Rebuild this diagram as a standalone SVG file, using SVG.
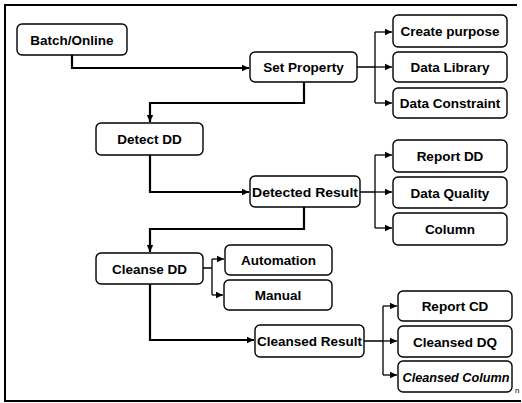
<svg xmlns="http://www.w3.org/2000/svg" width="522" height="403" viewBox="0 0 522 403">
<style>
.box{fill:#fff;stroke:#000;stroke-width:1.4}
.t{font-family:"Liberation Sans",Arial,sans-serif;font-weight:bold;font-size:13.5px;fill:#000;text-anchor:middle}
.trunk{fill:none;stroke:#000;stroke-width:2.2}
.br{fill:none;stroke:#000;stroke-width:1.3}
</style>
<defs>
<marker id="ah" markerUnits="userSpaceOnUse" markerWidth="8" markerHeight="8" refX="7" refY="4" orient="auto">
<path d="M0,0.8 L7,4 L0,7.2 Z" fill="#000"/>
</marker>
</defs>
<rect x="0" y="0" width="522" height="403" fill="#fff"/>
<path d="M517,5 H5 V401 H521" fill="none" stroke="#000" stroke-width="2"/>
<g id="connectors">
<path class="trunk" d="M72,55 V68 H249" marker-end="url(#ah)"/>
<path class="trunk" d="M304,82 V103 H150 V122" marker-end="url(#ah)"/>
<path class="trunk" d="M150,155 V192 H249" marker-end="url(#ah)"/>
<path class="trunk" d="M304,207 V229 H150 V252" marker-end="url(#ah)"/>
<path class="trunk" d="M150,284 V340 H254" marker-end="url(#ah)"/>
<path class="br" d="M357,67 H375 M375,32 V103"/>
<path class="br" d="M375,32 H392" marker-end="url(#ah)"/>
<path class="br" d="M375,67 H392" marker-end="url(#ah)"/>
<path class="br" d="M375,103 H392" marker-end="url(#ah)"/>
<path class="br" d="M360,192 H375 M375,155 V228"/>
<path class="br" d="M375,155 H392" marker-end="url(#ah)"/>
<path class="br" d="M375,192 H392" marker-end="url(#ah)"/>
<path class="br" d="M375,228 H392" marker-end="url(#ah)"/>
<path class="br" d="M203,268 H212 M212,259 V295"/>
<path class="br" d="M212,259 H224" marker-end="url(#ah)"/>
<path class="br" d="M212,295 H223" marker-end="url(#ah)"/>
<path class="br" d="M364,341 H383 M383,306 V375"/>
<path class="br" d="M383,306 H397" marker-end="url(#ah)"/>
<path class="br" d="M383,341 H397" marker-end="url(#ah)"/>
<path class="br" d="M383,375 H397" marker-end="url(#ah)"/>
</g>
<g id="batch"><rect class="box" x="17" y="24" width="110" height="31" rx="5"/><text class="t" x="72" y="44.5">Batch/Online</text></g>
<g id="setprop"><rect class="box" x="250" y="52" width="107" height="30" rx="5"/><text class="t" x="303.5" y="72">Set Property</text></g>
<g id="create"><rect class="box" x="393" y="15" width="114" height="32" rx="5"/><text class="t" x="450" y="36">Create purpose</text></g>
<g id="datalib"><rect class="box" x="393" y="52" width="114" height="30" rx="5"/><text class="t" x="450" y="72">Data Library</text></g>
<g id="datacon"><rect class="box" x="393" y="88" width="114" height="30" rx="5"/><text class="t" x="450" y="108">Data Constraint</text></g>
<g id="detect"><rect class="box" x="96" y="123" width="107" height="32" rx="5"/><text class="t" x="149.5" y="144">Detect DD</text></g>
<g id="detres"><rect class="box" x="250" y="176" width="110" height="31" rx="5"/><text class="t" x="305" y="196.5" textLength="106" lengthAdjust="spacingAndGlyphs">Detected Result</text></g>
<g id="reportdd"><rect class="box" x="393" y="140" width="114" height="32" rx="5"/><text class="t" x="450" y="161">Report DD</text></g>
<g id="dataq"><rect class="box" x="393" y="177" width="114" height="31" rx="5"/><text class="t" x="450" y="197.5">Data Quality</text></g>
<g id="column"><rect class="box" x="393" y="213" width="114" height="32" rx="5"/><text class="t" x="450" y="234">Column</text></g>
<g id="cleanse"><rect class="box" x="96" y="253" width="107" height="31" rx="5"/><text class="t" x="149.5" y="273.5">Cleanse DD</text></g>
<g id="auto"><rect class="box" x="225" y="245" width="107" height="30" rx="5"/><text class="t" x="278.5" y="265">Automation</text></g>
<g id="manual"><rect class="box" x="224" y="280" width="108" height="30" rx="5"/><text class="t" x="278" y="300">Manual</text></g>
<g id="cleres"><rect class="box" x="255" y="325" width="109" height="32" rx="5"/><text class="t" x="309.5" y="346">Cleansed Result</text></g>
<g id="reportcd"><rect class="box" x="398" y="291" width="114" height="30" rx="5"/><text class="t" x="455" y="311">Report CD</text></g>
<g id="cledq"><rect class="box" x="398" y="326" width="114" height="31" rx="5"/><text class="t" x="455" y="346.5">Cleansed DQ</text></g>
<g id="clecol"><rect class="box" x="398" y="361" width="114" height="31" rx="5"/><text class="t" x="456" y="381.5" font-style="italic" textLength="107" lengthAdjust="spacingAndGlyphs">Cleansed Column</text><text x="515" y="393" font-family="Liberation Sans, Arial, sans-serif" font-size="8" fill="#000">n</text></g>
</svg>
